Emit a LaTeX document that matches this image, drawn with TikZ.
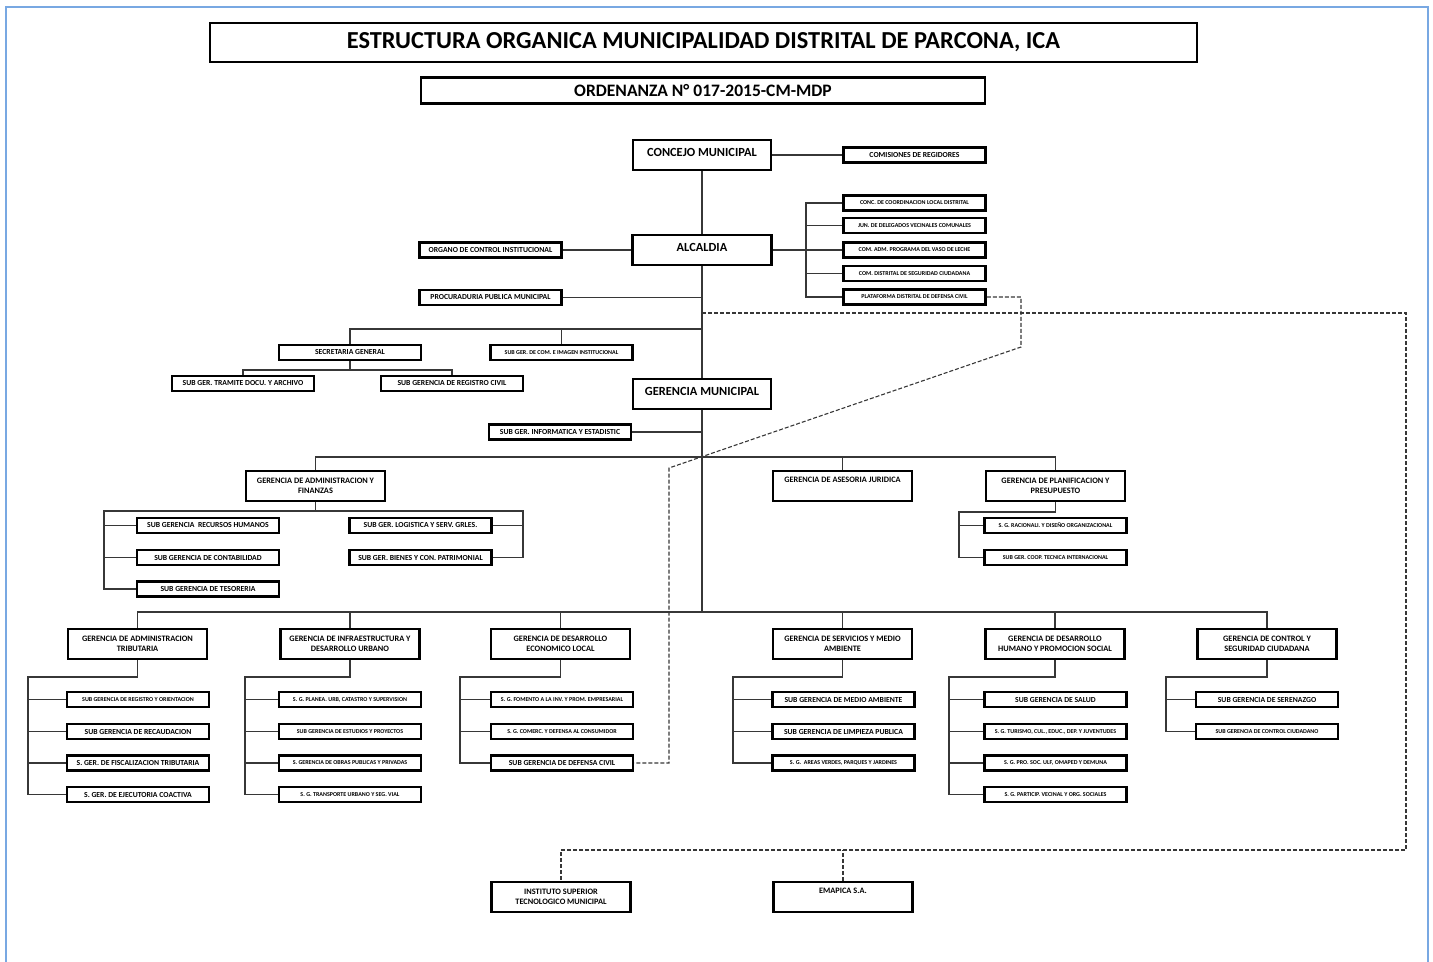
\documentclass[tikz,border=0pt]{standalone}
\usepackage{fontspec}
\setmainfont{Carlito}
\definecolor{frameblue}{RGB}{120,168,226}
\definecolor{linegray}{RGB}{55,55,55}

\tikzset{
  box/.style={draw,line width=1.3pt,inner sep=0pt,minimum width=71pt,minimum height=7.5pt,
    font=\bfseries\fontsize{3.85}{4.5}\selectfont},
  sbox/.style={box,font=\bfseries\fontsize{3}{3.6}\selectfont},
  gbox/.style={draw,line width=1.3pt,inner sep=0pt,align=center,minimum width=69.5pt,minimum height=15pt,
    font=\bfseries\fontsize{4.15}{5.1}\selectfont},
  gone/.style={gbox,text depth=6pt},
  mbox/.style={draw,line width=1.3pt,inner sep=0pt,minimum width=69pt,minimum height=15pt,text depth=3pt,
    font=\bfseries\fontsize{6.2}{7}\selectfont},
  link/.style={draw=linegray,line width=0.6pt},
  dlink/.style={draw=linegray,line width=0.55pt,dash pattern=on 2pt off 1pt}
}

\begin{document}
\begin{tikzpicture}[x=0.5pt,y=-0.5pt]
    \useasboundingbox (0,0) rectangle (1433,962);
    \draw[frameblue,line width=1pt] (6,962) -- (6,7) -- (1428,7) -- (1428,962);

    % titulo
    \node[draw,line width=1.3pt,minimum width=493.5pt,minimum height=19.5pt,
      font=\bfseries\fontsize{12.2}{14}\selectfont] (title) at (703.5,42.5)
      {ESTRUCTURA ORGANICA MUNICIPALIDAD DISTRITAL DE PARCONA, ICA};
    \node[draw,line width=1.3pt,minimum width=282pt,minimum height=11.5pt,
      font=\bfseries\fontsize{8.75}{10}\selectfont] (ord) at (703,90.5)
      {ORDENANZA N° 017-2015-CM-MDP};

    % alta direccion
    \node[mbox] (concejo) at (702,155) {CONCEJO MUNICIPAL};
    \node[box] (comis) at (914.5,155) {COMISIONES DE REGIDORES};
    \node[mbox,minimum width=69.5pt] (alcaldia) at (702,250) {ALCALDIA};
    \node[sbox] (conc) at (914.5,203) {CONC. DE COORDINACION LOCAL DISTRITAL};
    \node[sbox] (jun) at (914.5,225.5) {JUN. DE DELEGADOS VECINALES COMUNALES};
    \node[sbox] (vaso) at (914.5,250) {COM. ADM. PROGRAMA DEL VASO DE LECHE};
    \node[sbox] (segciu) at (914.5,273.5) {COM. DISTRITAL DE SEGURIDAD CIUDADANA};
    \node[sbox] (plat) at (914.5,297) {PLATAFORMA DISTRITAL DE DEFENSA CIVIL};
    \node[box] (oci) at (490.5,250) {ORGANO DE CONTROL INSTITUCIONAL};
    \node[box] (ppm) at (490.5,297.5) {PROCURADURIA PUBLICA MUNICIPAL};
    \node[box] (secgen) at (350,352.5) {SECRETARIA GENERAL};
    \node[sbox] (imagen) at (561.5,352.5) {SUB GER. DE COM. E IMAGEN INSTITUCIONAL};
    \node[box] (tramite) at (243,383.5) {SUB GER. TRAMITE DOCU. Y ARCHIVO};
    \node[box] (regciv) at (452,383.5) {SUB GERENCIA DE REGISTRO CIVIL};
    \node[mbox] (gm) at (702,394) {GERENCIA MUNICIPAL};
    \node[box] (inform) at (560,432) {SUB GER. INFORMATICA Y ESTADISTIC};

    \draw[link] (concejo) -- (alcaldia);
    \draw[link] (alcaldia) -- (gm);
    \draw[link] (concejo.east) -- (comis.west);
    \draw[link] (alcaldia.east) -- (vaso.west);
    \coordinate (bra) at (806,203);
    \draw[link] (conc.west) -- (bra) |- (plat.west);
    \draw[link] (bra |- jun.west) -- (jun.west);
    \draw[link] (bra |- segciu.west) -- (segciu.west);
    \draw[link] (oci.east) -- (alcaldia.west);
    \draw[link] (ppm.east) -- (ppm.east -| gm.center);
    \coordinate (bs) at (702,329);
    \draw[link] (bs) -| (secgen.north);
    \draw[link] (imagen.north) -- (imagen.north |- bs);
    \coordinate (bt) at (350,370);
    \draw[link] (secgen.south) -- (bt);
    \draw[link] (tramite.north) |- (bt) -| (regciv.north);
    \draw[link] (inform.east) -- (inform.east -| gm.south);

    % gerencias de apoyo
    \node[gbox] (gaf) at (315.5,486) {GERENCIA DE ADMINISTRACION Y\\FINANZAS};
    \node[gone] (gaj) at (842.5,486) {GERENCIA DE ASESORIA JURIDICA};
    \node[gbox] (gpp) at (1055.5,486) {GERENCIA DE PLANIFICACION Y\\PRESUPUESTO};
    \node[box] (rrhh) at (208,525.5) {SUB GERENCIA\ \ RECURSOS HUMANOS};
    \node[box] (conta) at (208,557.5) {SUB GERENCIA DE CONTABILIDAD};
    \node[box] (teso) at (208,589) {SUB GERENCIA DE TESORERIA};
    \node[box] (logis) at (420.5,525.5) {SUB GER. LOGISTICA Y SERV. GRLES.};
    \node[box] (bienes) at (420.5,557.5) {SUB GER. BIENES Y CON. PATRIMONIAL};
    \node[sbox] (racio) at (1055.5,525.5) {S. G. RACIONALI. Y DISEÑO ORGANIZACIONAL};
    \node[sbox] (coop) at (1055.5,557.5) {SUB GER. COOP. TECNICA INTERNACIONAL};

    \coordinate (bm) at (702,457);
    \draw[link] (gaf.north) |- (bm) -| (gpp.north);
    \draw[link] (gaj.north) -- (gaj.north |- bm);
    \coordinate (bf) at (315.5,511);
    \draw[link] (gaf.south) -- (bf);
    \draw[link] (teso.west) -| (104,511) -| (523,557.5) -- (bienes.east);
    \coordinate (fl) at (104,511);
    \coordinate (fr) at (523,511);
    \draw[link] (fl |- rrhh.west) -- (rrhh.west);
    \draw[link] (fl |- conta.west) -- (conta.west);
    \draw[link] (fr |- logis.east) -- (logis.east);
    \coordinate (pl) at (959,512);
    \draw[link] (gpp.south) |- (pl) |- (coop.west);
    \draw[link] (pl |- racio.west) -- (racio.west);

    % gerencias de linea
    \node[gbox] (gat) at (137.5,644) {GERENCIA DE ADMINISTRACION\\TRIBUTARIA};
    \node[gbox] (gidu) at (350,644) {GERENCIA DE INFRAESTRUCTURA Y\\DESARROLLO URBANO};
    \node[gbox] (gdel) at (560.5,644) {GERENCIA DE DESARROLLO\\ECONOMICO LOCAL};
    \node[gbox] (gsma) at (842.5,644) {GERENCIA DE SERVICIOS Y MEDIO\\AMBIENTE};
    \node[gbox] (gdh) at (1055,644) {GERENCIA DE DESARROLLO\\HUMANO Y PROMOCION SOCIAL};
    \node[gbox] (gcs) at (1267,644) {GERENCIA DE CONTROL Y\\SEGURIDAD CIUDADANA};

    \coordinate (bb) at (702,612);
    \draw[link] (gm.south) -- (bb);
    \draw[link] (gat.north) |- (bb) -| (gcs.north);
    \draw[link] (gidu.north) -- (gidu.north |- bb);
    \draw[link] (gdel.north) -- (gdel.north |- bb);
    \draw[link] (gsma.north) -- (gsma.north |- bb);
    \draw[link] (gdh.north) -- (gdh.north |- bb);

    % administracion tributaria
    \node[sbox] (regor) at (138,699.5) {SUB GERENCIA DE REGISTRO Y ORIENTACION};
    \node[box] (recau) at (138,731.5) {SUB GERENCIA DE RECAUDACION};
    \node[box] (fisca) at (138,763) {S. GER. DE FISCALIZACION TRIBUTARIA};
    \node[box] (ejec) at (138,794.5) {S. GER. DE EJECUTORIA COACTIVA};
    \coordinate (tb) at (28,677);
    \draw[link] (gat.south) |- (tb) |- (ejec.west);
    \draw[link] (tb |- regor.west) -- (regor.west);
    \draw[link] (tb |- recau.west) -- (recau.west);
    \draw[link] (tb |- fisca.west) -- (fisca.west);

    % infraestructura
    \node[sbox] (planea) at (350,699.5) {S. G. PLANEA. URB, CATASTRO Y SUPERVISION};
    \node[sbox] (estud) at (350,731.5) {SUB GERENCIA DE ESTUDIOS Y PROYECTOS};
    \node[sbox] (obras) at (350,763) {S. GERENCIA DE OBRAS PUBLICAS Y PRIVADAS};
    \node[sbox] (transp) at (350,794.5) {S. G. TRANSPORTE URBANO Y SEG. VIAL};
    \coordinate (ib) at (245,677);
    \draw[link] (gidu.south) |- (ib) |- (transp.west);
    \draw[link] (ib |- planea.west) -- (planea.west);
    \draw[link] (ib |- estud.west) -- (estud.west);
    \draw[link] (ib |- obras.west) -- (obras.west);

    % desarrollo economico
    \node[sbox] (fomen) at (562,699.5) {S. G. FOMENTO A LA INV. Y PROM. EMPRESARIAL};
    \node[sbox] (comerc) at (562,731.5) {S. G. COMERC. Y DEFENSA AL CONSUMIDOR};
    \node[box] (dcivil) at (562,763) {SUB GERENCIA DE DEFENSA CIVIL};
    \coordinate (eb) at (460,677);
    \draw[link] (gdel.south) |- (eb) |- (dcivil.west);
    \draw[link] (eb |- fomen.west) -- (fomen.west);
    \draw[link] (eb |- comerc.west) -- (comerc.west);

    % servicios y medio ambiente
    \node[box] (medamb) at (843.5,699.5) {SUB GERENCIA DE MEDIO AMBIENTE};
    \node[box] (limp) at (843.5,731.5) {SUB GERENCIA DE LIMPIEZA PUBLICA};
    \node[sbox] (areas) at (843.5,763) {S. G.\ \ AREAS VERDES, PARQUES Y JARDINES};
    \coordinate (sb) at (733,677);
    \draw[link] (gsma.south) |- (sb) |- (areas.west);
    \draw[link] (sb |- medamb.west) -- (medamb.west);
    \draw[link] (sb |- limp.west) -- (limp.west);

    % desarrollo humano
    \node[box] (salud) at (1055.5,699.5) {SUB GERENCIA DE SALUD};
    \node[sbox] (turis) at (1055.5,731.5) {S. G. TURISMO, CUL., EDUC., DEP. Y JUVENTUDES};
    \node[sbox] (prosoc) at (1055.5,763) {S. G. PRO. SOC. ULF, OMAPED Y DEMUNA};
    \node[sbox] (partic) at (1055.5,794.5) {S. G. PARTICIP. VECINAL Y ORG. SOCIALES};
    \coordinate (hb) at (949,677);
    \draw[link] (gdh.south) |- (hb) |- (partic.west);
    \draw[link] (hb |- salud.west) -- (salud.west);
    \draw[link] (hb |- turis.west) -- (turis.west);
    \draw[link] (hb |- prosoc.west) -- (prosoc.west);

    % control y seguridad
    \node[box] (seren) at (1267,699.5) {SUB GERENCIA DE SERENAZGO};
    \node[sbox] (ctrlciu) at (1267,731.5) {SUB GERENCIA DE CONTROL CIUDADANO};
    \coordinate (cb) at (1166,677);
    \draw[link] (gcs.south) |- (cb) |- (ctrlciu.west);
    \draw[link] (cb |- seren.west) -- (seren.west);

    % organismos
    \node[gbox] (ist) at (561,897) {INSTITUTO SUPERIOR\\TECNOLOGICO MUNICIPAL};
    \node[gone] (emap) at (843,897) {EMAPICA S.A.};
    \coordinate (d1) at (702,313);
    \coordinate (d2) at (1406,850);
    \draw[dlink] (d1) -| (d2) -| (ist.north);
    \draw[dlink] (emap.north) -- (emap.north |- d2);
    \draw[dlink] (plat.east) -| (1021,347) -- (669,468) |- (dcivil.east);
\end{tikzpicture}
\end{document}
